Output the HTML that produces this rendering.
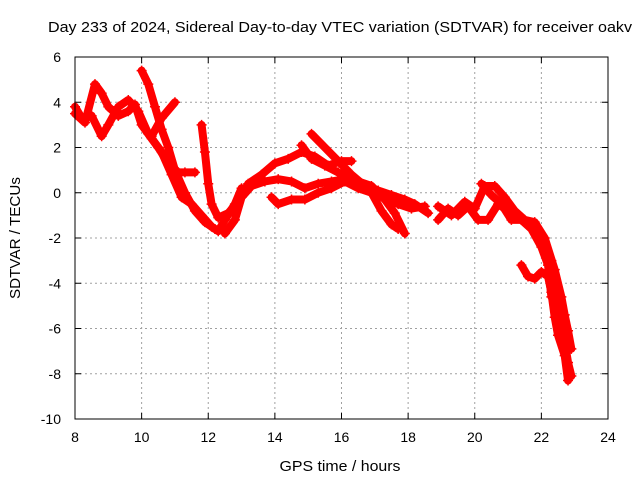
<!DOCTYPE html>
<html><head><meta charset="utf-8"><style>
html,body{margin:0;padding:0;background:#fff;}
svg{display:block;font-family:"Liberation Sans",sans-serif;}
</style></head><body>
<svg id="chart" width="640" height="480" viewBox="0 0 640 480" xmlns="http://www.w3.org/2000/svg">
<rect width="640" height="480" fill="#fff"/>
<text x="340" y="32" font-size="15" text-anchor="middle" textLength="584" lengthAdjust="spacingAndGlyphs" fill="#000">Day 233 of 2024, Sidereal Day-to-day VTEC variation (SDTVAR) for receiver oakv</text>
<text x="340" y="471" font-size="15" text-anchor="middle" textLength="121" lengthAdjust="spacingAndGlyphs">GPS time / hours</text>
<text transform="translate(20,238) rotate(-90)" font-size="15" text-anchor="middle" textLength="122" lengthAdjust="spacingAndGlyphs">SDTVAR / TECUs</text>
<g id="grid"></g><g id="ticks"></g><g id="series"></g>
<rect x="75" y="57" width="533" height="362" fill="none" stroke="#000" stroke-width="1"/>
</svg>
<script>
const xTicks=[8,10,12,14,16,18,20,22,24];
const yTicks=[6,4,2,0,-2,-4,-6,-8,-10];
const trackA=[[8.0,3.8],[8.2,3.3],[8.5,3.4],[8.8,2.5],[9.0,3.0],[9.3,3.8],[9.6,4.1],[9.9,3.6],[10.2,2.6],[10.5,2.0],[10.8,1.3],[11.1,0.9],[11.3,0.9],[11.6,0.9]];
const trackB=[[8.0,3.5],[8.3,3.1],[8.6,4.8],[8.8,4.4],[9.0,3.8],[9.3,3.4],[9.6,3.6],[9.8,3.9],[10.0,3.0],[10.3,2.4],[10.6,1.8],[10.9,0.8],[11.2,-0.2],[11.5,-0.5],[11.8,-1.0],[12.1,-1.5],[12.3,-1.7],[12.5,-1.2],[12.8,-0.5],[13.0,0.2]];
const trackC=[[10.0,5.4],[10.2,4.8],[10.4,3.8],[10.6,2.8],[10.8,2.0],[11.0,1.0],[11.3,0.0],[11.6,-0.8],[11.9,-1.3],[12.2,-1.6]];
const trackD=[[10.3,2.5],[10.6,3.3],[11.0,4.0]];
const trackE=[[11.8,3.0],[11.9,1.8],[12.0,0.4],[12.1,-0.5],[12.3,-1.1],[12.6,-0.9],[12.9,-0.4],[13.2,0.4],[13.6,0.8],[14.0,1.3],[14.4,1.5],[14.8,1.8],[15.2,1.6],[15.6,1.2],[16.0,1.4],[16.3,1.4]];
const trackF=[[12.5,-1.8],[12.8,-1.2],[13.0,-0.2],[13.3,0.3],[13.7,0.5],[14.1,0.6],[14.5,0.5],[14.9,0.2],[15.3,0.4],[15.7,0.5],[16.1,0.6],[16.5,0.5],[16.9,0.3],[17.3,-0.3],[17.6,-0.9],[17.9,-1.8]];
const trackG=[[14.8,2.1],[15.1,1.5],[15.5,1.2],[15.9,0.9],[16.3,0.6],[16.6,0.3],[16.9,0.0],[17.2,-0.8],[17.5,-1.4],[17.7,-1.6]];
const trackH=[[15.1,2.6],[15.5,2.0],[15.9,1.4],[16.3,0.8],[16.7,0.3],[17.1,0.1],[17.5,-0.1],[17.9,-0.3],[18.2,-0.5],[18.6,-0.9]];
const trackI=[[13.9,-0.2],[14.1,-0.5],[14.5,-0.3],[14.9,-0.3],[15.3,0.0],[15.7,0.2],[16.1,0.5],[16.5,0.2],[16.9,0.0],[17.3,-0.2],[17.7,-0.5],[18.1,-0.7],[18.5,-0.6]];
const trackJ=[[18.9,-1.2],[19.2,-0.7],[19.5,-1.0],[19.8,-0.6],[20.1,-1.2],[20.4,-1.2],[20.7,-0.5],[21.0,-0.8],[21.3,-1.1],[21.6,-1.4],[21.9,-1.6],[22.1,-2.2],[22.3,-3.0],[22.5,-4.6],[22.6,-5.5],[22.7,-6.6],[22.8,-7.5],[22.9,-8.1]];
const trackK=[[18.9,-0.6],[19.3,-1.0],[19.7,-0.4],[20.0,-0.7],[20.3,0.3],[20.6,0.3],[20.9,-0.2],[21.2,-0.8],[21.5,-1.2],[21.8,-1.3],[22.1,-2.0],[22.4,-3.4],[22.6,-4.6],[22.7,-5.4],[22.8,-6.1],[22.9,-6.9]];
const trackL=[[20.2,0.4],[20.5,-0.1],[20.8,-0.5],[21.1,-1.2],[21.4,-1.2],[21.7,-1.6],[22.0,-2.4],[22.2,-3.2],[22.3,-4.6]];
const trackM=[[21.4,-3.2],[21.6,-3.7],[21.8,-3.8],[22.0,-3.5],[22.2,-3.7],[22.3,-4.4],[22.4,-5.5],[22.5,-6.3],[22.7,-7.2],[22.8,-8.3]];
const tracks=[trackA,trackB,trackC,trackD,trackE,trackF,trackG,trackH,trackI,trackJ,trackK,trackL,trackM];

const X0=75,X1=608,Y0=57,Y1=419;
function sx(h){return X0+(h-8)/(24-8)*(X1-X0);}
function sy(v){return Y0+(6-v)/16*(Y1-Y0);}
const NS="http://www.w3.org/2000/svg";
function mk(t,a){const e=document.createElementNS(NS,t);for(const k in a)e.setAttribute(k,a[k]);return e;}
const grid=document.getElementById('grid'),ticks=document.getElementById('ticks'),ser=document.getElementById('series');
xTicks.forEach(t=>{
  const x=sx(t);
  if(t>8&&t<24){const g=mk('line',{x1:x,x2:x,y1:Y0,y2:Y1,stroke:'#a0a0a0','stroke-dasharray':'2,3'});
  
  
  grid.appendChild(g);}
  const tk=mk('path',{d:`M${x},${Y1}v-6M${x},${Y0}v6`,stroke:'#000'});
  
  
  ticks.appendChild(tk);
  const l=mk('text',{x:x,y:Y1+23,'font-size':14,'text-anchor':'middle'});l.textContent=t;
  
  
  ticks.appendChild(l);
});
yTicks.forEach(t=>{
  const y=sy(t);
  if(t<6&&t>-10){const g=mk('line',{x1:X0,x2:X1,y1:y,y2:y,stroke:'#a0a0a0','stroke-dasharray':'2,3'});
  
  
  grid.appendChild(g);}
  const tk=mk('path',{d:`M${X0},${y}h6M${X1},${y}h-6`,stroke:'#000'});
  
  
  ticks.appendChild(tk);
  const l=mk('text',{x:X0-14,y:y+5,'font-size':14,'text-anchor':'end'});l.textContent=t;
  
  
  ticks.appendChild(l);
});
tracks.forEach((tr,i)=>{
  const g=mk('g',{});
  
  
  const pts=tr.map(p=>sx(p[0])+','+sy(p[1])).join(' ');
  g.appendChild(mk('polyline',{points:pts,fill:'none',stroke:'#f00','stroke-width':8,'stroke-linejoin':'round','stroke-linecap':'round'}));
  tr.forEach(p=>{const x=sx(p[0]),y=sy(p[1]);
    const m=mk('path',{d:`M${x-5},${y}h10M${x},${y-5}v10`,stroke:'#f00','stroke-width':1.5});
    
    
    g.appendChild(m);});
  ser.appendChild(g);
});
</script>
</body></html>
